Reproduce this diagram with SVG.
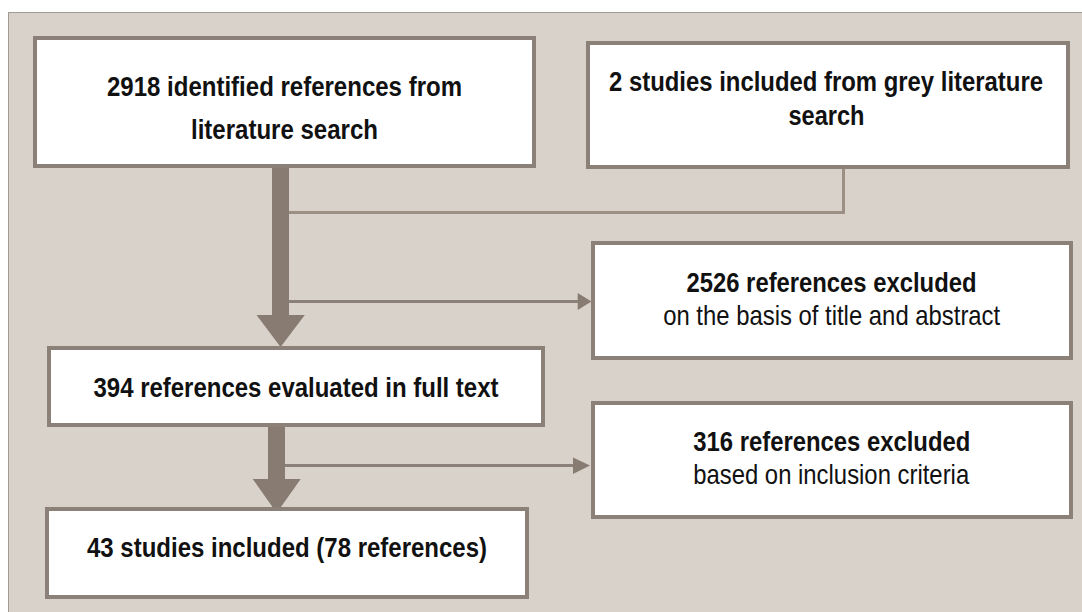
<svg xmlns="http://www.w3.org/2000/svg" width="1082" height="612" viewBox="0 0 1082 612">
<style>
.box{fill:#ffffff;stroke:#8b8178;stroke-width:4}
.t{font-family:"Liberation Sans Narrow","Liberation Sans",Arial,sans-serif;font-size:28px;fill:#111111;text-anchor:middle}
.b{font-weight:bold}
.ln{fill:none;stroke:#8b8178;stroke-width:3}
.ar{fill:#887c72}
</style>
<rect x="0" y="0" width="1082" height="612" fill="#ffffff"/>
<rect x="8.5" y="12.5" width="1080" height="606" fill="#d9d2cb" stroke="#a39a91" stroke-width="1"/>
<g id="connectors">
<polyline class="ln" points="843.5,169 843.5,212.5 289,212.5" style="stroke:#9c8f86"/>
<polygon points="289,205 272,212.5 289,220" fill="#968b83"/>
<rect class="ar" x="272" y="168" width="17" height="147"/>
<polygon class="ar" points="256.5,315 304.8,315 280.6,347"/>
<line class="ln" x1="289" y1="301.5" x2="580" y2="301.5"/>
<polygon class="ar" points="577.7,293 591.5,301.5 577.7,310"/>
<rect class="ar" x="268" y="427" width="17" height="52"/>
<polygon class="ar" points="252.7,479 300.7,479 276.7,513"/>
<line class="ln" x1="285" y1="465.5" x2="575" y2="465.5"/>
<polygon class="ar" points="573,457.5 590,465.5 573,474"/>
</g>
<g id="n1">
<rect class="box" x="35" y="38" width="499" height="128"/>
<text class="t b" x="284.5" y="96" textLength="355" lengthAdjust="spacingAndGlyphs">2918 identified references from</text>
<text class="t b" x="284.5" y="139" textLength="187" lengthAdjust="spacingAndGlyphs">literature search</text>
</g>
<g id="n2">
<rect class="box" x="588" y="43" width="480" height="124"/>
<text class="t b" x="826" y="91" textLength="434" lengthAdjust="spacingAndGlyphs">2 studies included from grey literature</text>
<text class="t b" x="826.5" y="125" textLength="76" lengthAdjust="spacingAndGlyphs">search</text>
</g>
<g id="n3">
<rect class="box" x="593" y="243" width="478" height="115"/>
<text class="t b" x="831.5" y="292" textLength="290" lengthAdjust="spacingAndGlyphs">2526 references excluded</text>
<text class="t" x="831.7" y="325" textLength="337" lengthAdjust="spacingAndGlyphs">on the basis of title and abstract</text>
</g>
<g id="n4">
<rect class="box" x="49" y="348" width="494" height="77"/>
<text class="t b" x="296" y="397" textLength="405" lengthAdjust="spacingAndGlyphs">394 references evaluated in full text</text>
</g>
<g id="n5">
<rect class="box" x="593" y="403" width="478" height="114"/>
<text class="t b" x="831.8" y="451" textLength="277" lengthAdjust="spacingAndGlyphs">316 references excluded</text>
<text class="t" x="831.2" y="484" textLength="276" lengthAdjust="spacingAndGlyphs">based on inclusion criteria</text>
</g>
<g id="n6">
<rect class="box" x="47" y="509" width="480" height="88"/>
<text class="t b" x="287" y="557" textLength="400" lengthAdjust="spacingAndGlyphs">43 studies included (78 references)</text>
</g>
</svg>
